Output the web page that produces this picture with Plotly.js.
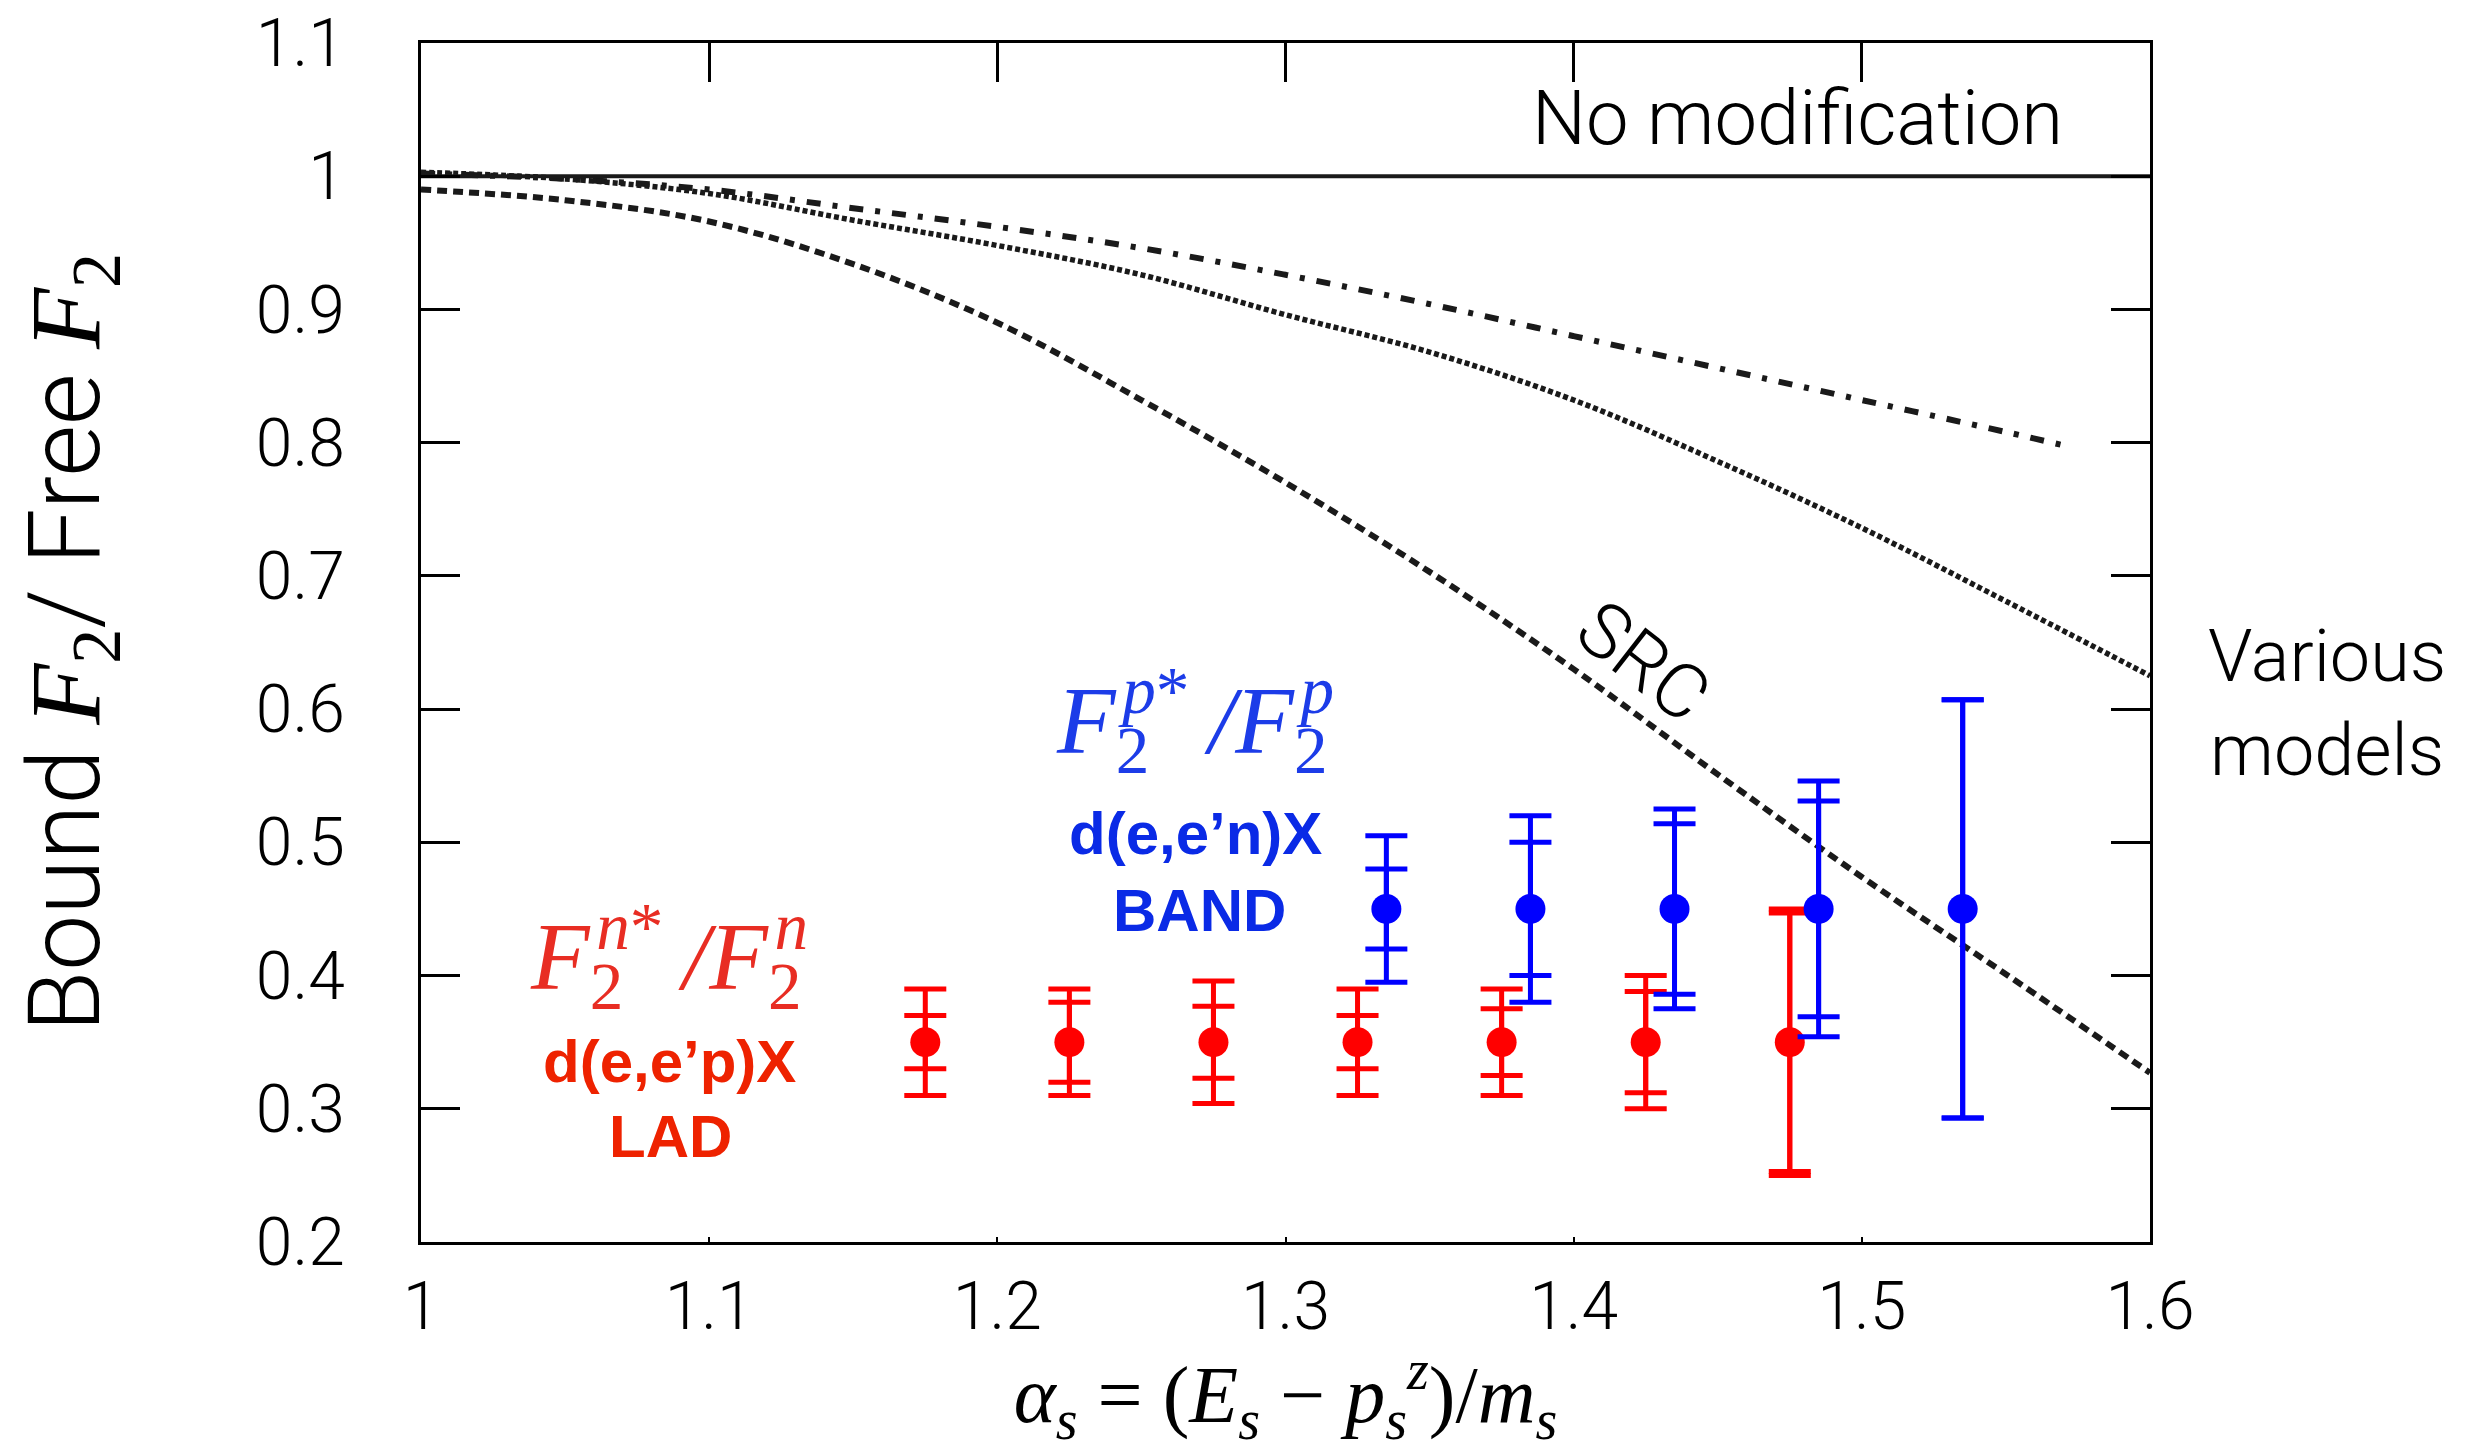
<!DOCTYPE html>
<html>
<head>
<meta charset="utf-8">
<script src="https://cdn.plot.ly/plotly-3.0.1.min.js"></script>
<style>html,body{margin:0;padding:0;background:#fff;}#chart{width:2484px;height:1451px;}</style>
</head>
<body>
<div id="chart"></div>
<script>
// ---------- data ----------
const noModX = [1.0, 1.6];
const noModY = [1.0, 1.0];

const curveX = [1.0, 1.05, 1.1, 1.15, 1.2, 1.25, 1.3, 1.35, 1.4, 1.45, 1.5, 1.55, 1.6];
const srcY    = [0.990, 0.982, 0.966, 0.934, 0.890, 0.832, 0.770, 0.703, 0.630, 0.551, 0.474, 0.401, 0.327];
const dottedY = [1.003, 0.998, 0.987, 0.967, 0.948, 0.926, 0.896, 0.868, 0.832, 0.786, 0.736, 0.681, 0.625];

const dashDotX = [1.0, 1.05, 1.1, 1.15, 1.2, 1.25, 1.3, 1.35, 1.4, 1.45, 1.5, 1.55, 1.572];
const dashDotY = [1.002, 0.998, 0.990, 0.976, 0.962, 0.946, 0.926, 0.904, 0.880, 0.856, 0.832, 0.808, 0.797];

const ladX    = [1.175, 1.225, 1.275, 1.325, 1.375, 1.425, 1.475];
const ladY    = [0.35, 0.35, 0.35, 0.35, 0.35, 0.35, 0.35];
const ladStat = [0.020, 0.030, 0.027, 0.020, 0.025, 0.038, 0.097];
const ladTot  = [0.040, 0.040, 0.046, 0.040, 0.040, 0.050, 0.100];

const bandX    = [1.335, 1.385, 1.435, 1.485, 1.535];
const bandY    = [0.45, 0.45, 0.45, 0.45, 0.45];
const bandStat = [0.030, 0.050, 0.064, 0.081, 0.157];
const bandTot  = [0.055, 0.070, 0.075, 0.096, 0.157];

const xTickVals = [1.0, 1.1, 1.2, 1.3, 1.4, 1.5, 1.6];
const xTickText = ['1', '1.1', '1.2', '1.3', '1.4', '1.5', '1.6'];
const yTickVals = [0.2, 0.3, 0.4, 0.5, 0.6, 0.7, 0.8, 0.9, 1.0, 1.1];
const yTickText = ['0.2', '0.3', '0.4', '0.5', '0.6', '0.7', '0.8', '0.9', '1', '1.1'];

// ---------- style ----------
const SANS = 'Roboto, "Liberation Sans", Arial, sans-serif';
const SERIF = '"Liberation Serif", "Times New Roman", serif';
const BOLD = '"Liberation Sans", Arial, sans-serif';
const RED = '#ff0000', BLUE = '#0000ff';
const RED_T = '#e82d23', RED_B = '#ee2200';
const BLUE_T = '#1c3ce8', BLUE_B = '#0a2ae6';
const INK = '#1a1a1a';

const traces = [
  {x: noModX, y: noModY, xaxis: 'x2', mode: 'lines', line: {color: INK, width: 4}, hoverinfo: 'skip'},
  {x: dashDotX, y: dashDotY, mode: 'lines', line: {color: INK, width: 6, dash: '14px,12px,5px,12px', shape: 'spline'}},
  {x: curveX, y: dottedY, mode: 'lines', line: {color: INK, width: 5.5, dash: '5px,3px', shape: 'spline'}},
  {x: curveX, y: srcY, mode: 'lines', line: {color: INK, width: 6, dash: '10px,6px', shape: 'spline'}},
  {x: ladX, y: ladY, mode: 'markers', marker: {size: 1, color: RED, opacity: 0},
   error_y: {type: 'data', array: ladTot, color: RED, thickness: 5, width: 21}},
  {x: ladX, y: ladY, mode: 'markers', marker: {size: 30, color: RED},
   error_y: {type: 'data', array: ladStat, color: RED, thickness: 5, width: 21}},
  {x: bandX, y: bandY, mode: 'markers', marker: {size: 1, color: BLUE, opacity: 0},
   error_y: {type: 'data', array: bandTot, color: BLUE, thickness: 5, width: 21}},
  {x: bandX, y: bandY, mode: 'markers', marker: {size: 30, color: BLUE},
   error_y: {type: 'data', array: bandStat, color: BLUE, thickness: 5, width: 21}}
];

function ann(x, y, text, size, color, family, extra, weight) {
  return Object.assign({x: x, y: y, xref: 'x', yref: 'y', text: text, showarrow: false,
    font: {size: size, color: color, family: family, weight: weight || 400},
    xanchor: 'center', yanchor: 'middle'}, extra || {});
}

// F_2^{a*}/F_2^{b}: subscript and superscript stacked by pulling the superscript back over the 2
function ratioText(a, b) {
  const tuck = '<span style="letter-spacing:-27px">2</span>';
  return '<i>F</i><sub>' + tuck + '</sub><sup><i>' + a + '</i>*</sup>\u2009<i>/F</i><sub>' + tuck + '</sub><sup><i>' + b + '</i></sup>';
}

const annotations = [
  ann(1.4776, 1.0437, 'No modification', 76, '#000', SANS, null, 300),
  ann(1.4244, 0.6353, 'SRC', 76, '#000', SANS, {textangle: 38}, 300),
  {xref: 'paper', yref: 'paper', x: 1.1024, y: 0.4495, text: 'Various<br>models', showarrow: false,
   font: {size: 72, color: '#000', family: SANS, weight: 300}, xanchor: 'center', yanchor: 'middle', align: 'center'},
  ann(1.2686, 0.5917, ratioText('p', 'p'), 96, BLUE_T, SERIF),
  ann(1.2686, 0.5065, '<b>d(e,e’n)X</b>', 60, BLUE_B, BOLD),
  ann(1.2703, 0.4490, '<b>BAND</b>', 60, BLUE_B, BOLD),
  ann(1.0862, 0.4146, ratioText('n', 'n'), 96, RED_T, SERIF),
  ann(1.0862, 0.3354, '<b>d(e,e’p)X</b>', 60, RED_B, BOLD),
  ann(1.0866, 0.2790, '<b>LAD</b>', 60, RED_B, BOLD)
];

const layout = {
  width: 2484, height: 1451,
  margin: {l: 421, r: 334, t: 43, b: 209, pad: 0},
  paper_bgcolor: '#fff', plot_bgcolor: '#fff',
  showlegend: false,
  xaxis: {
    range: [1, 1.6], tickvals: xTickVals, ticktext: xTickText,
    ticks: 'inside', ticklen: 5, tickwidth: 2, tickcolor: '#000',
    showline: true, linewidth: 3, linecolor: '#000', mirror: false,
    showgrid: false, zeroline: false,
    tickfont: {family: SANS, size: 66, color: '#000', weight: 300},
    ticklabelstandoff: 5,
    title: {text: '<i>α<sub>s</sub></i> = (<i>E<sub>s</sub></i> − <i>p<sub>s</sub><sup>z</sup></i>)/<i>m<sub>s</sub></i>',
            font: {family: SERIF, size: 80, color: '#000'}, standoff: 45}
  },
  xaxis2: {
    overlaying: 'x', matches: 'x', side: 'top', range: [1, 1.6], tickvals: xTickVals,
    ticks: 'inside', ticklen: 39, tickwidth: 3, tickcolor: '#000',
    showline: true, linewidth: 3, linecolor: '#000',
    showticklabels: false, showgrid: false, zeroline: false
  },
  yaxis: {
    range: [0.2, 1.1], tickvals: yTickVals, ticktext: yTickText,
    ticks: 'inside', ticklen: 39, tickwidth: 3, tickcolor: '#000',
    showline: true, linewidth: 3, linecolor: '#000', mirror: 'ticks',
    showgrid: false, zeroline: false,
    tickfont: {family: SANS, size: 66, color: '#000', weight: 300},
    ticklabelstandoff: 60,
    title: {text: 'Bound <span style="font-family:\'Liberation Serif\'"><i>F</i><sub>2</sub></span>/ Free <span style="font-family:\'Liberation Serif\'"><i>F</i><sub>2</sub></span>',
            font: {family: SANS, size: 100, color: '#000', weight: 300}, standoff: 123}
  },
  annotations: annotations
};

Plotly.newPlot('chart', traces, layout, {staticPlot: true, displayModeBar: false});
</script>
</body>
</html>
